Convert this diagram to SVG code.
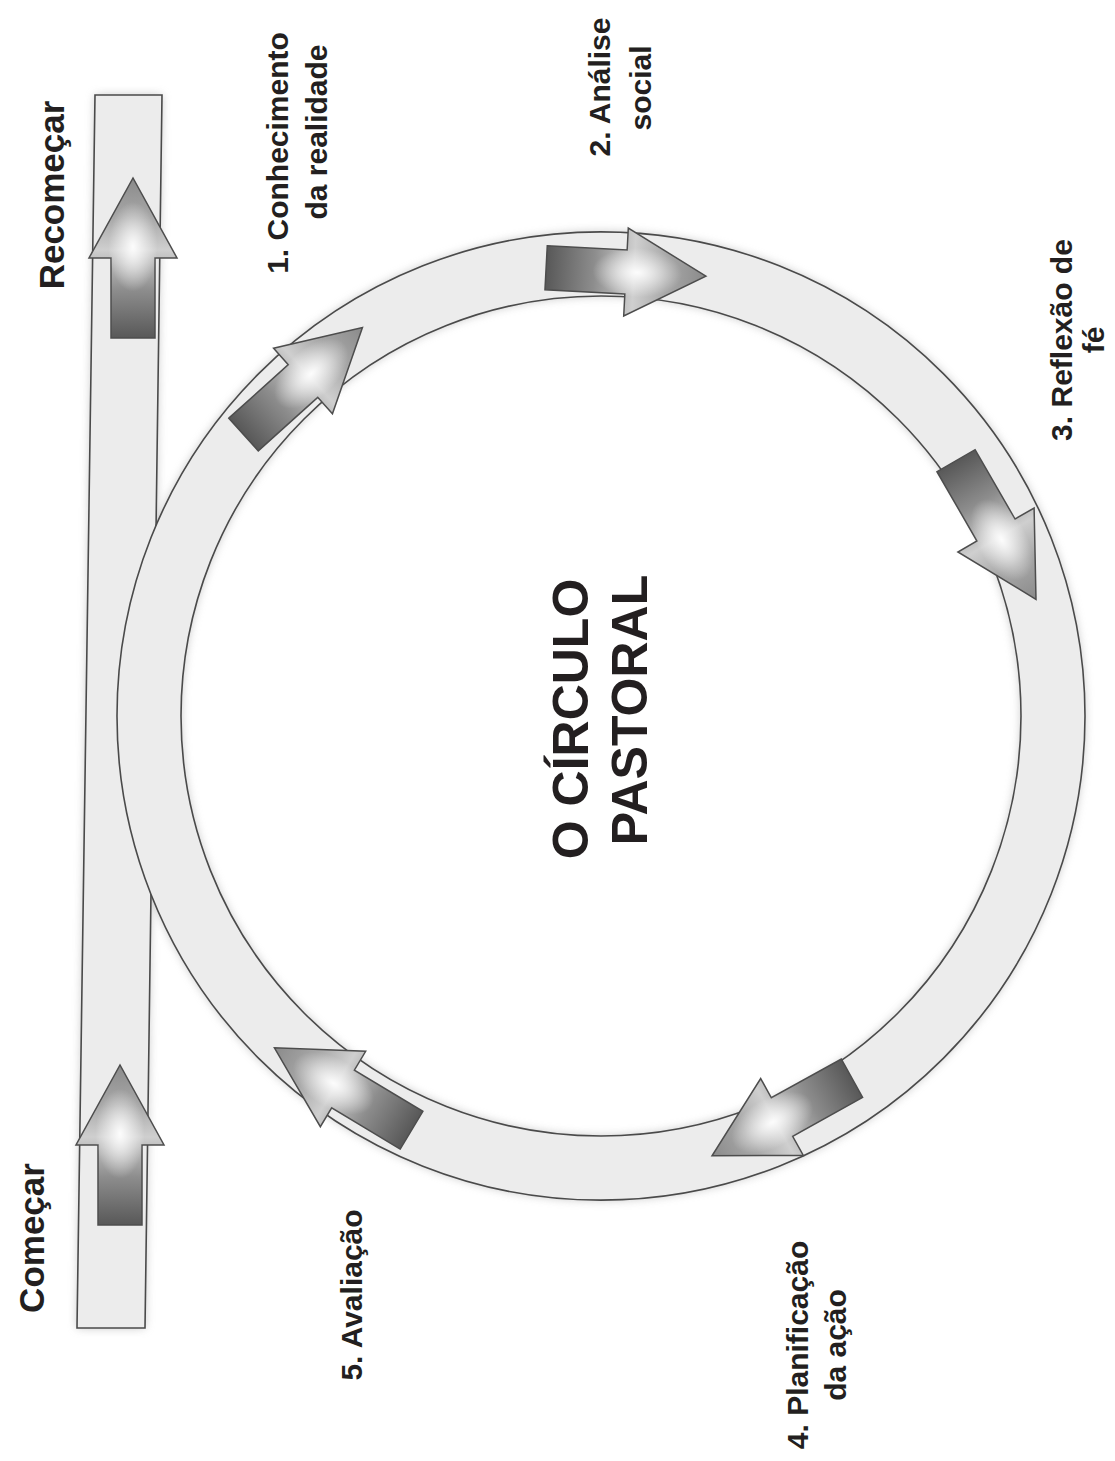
<svg xmlns="http://www.w3.org/2000/svg" xmlns:xlink="http://www.w3.org/1999/xlink" width="1115" height="1461" viewBox="0 0 1115 1461">
<style>
.lbl{font-family:"Liberation Sans",Arial,sans-serif;font-weight:bold;font-size:30px;fill:#231f20;text-anchor:middle}
.big{font-size:35px}
.title{font-family:"Liberation Sans",Arial,sans-serif;font-weight:bold;font-size:50px;fill:#231f20;text-anchor:middle}
.band{fill:#ececec;stroke:#4a4a4a;stroke-width:1.6}
.arrow{fill:url(#ag);stroke:#4d4d4d;stroke-width:1.5}
.hl{fill:url(#hl)}
</style>
<defs>
<filter id="soft" x="-10%" y="-10%" width="120%" height="120%"><feGaussianBlur stdDeviation="5"/></filter>
<linearGradient id="ag" x1="0" y1="0" x2="1" y2="0">
<stop offset="0" stop-color="#585858"/>
<stop offset="0.3" stop-color="#8d8d8d"/>
<stop offset="0.55" stop-color="#cfcfcf"/>
<stop offset="0.75" stop-color="#a8a8a8"/>
<stop offset="1" stop-color="#8a8a8a"/>
</linearGradient>
<radialGradient id="hl" cx="0.57" cy="0.5" r="0.28">
<stop offset="0" stop-color="#ffffff" stop-opacity="0.95"/>
<stop offset="1" stop-color="#ffffff" stop-opacity="0"/>
</radialGradient>
<path id="arr" d="M-80,-22 L0,-22 L0,-44 L80,0 L0,44 L0,22 L-80,22 Z"/>
</defs>
<rect width="1115" height="1461" fill="#ffffff"/>
<g id="shadows" filter="url(#soft)" opacity="0.55">
<polygon points="95,95 162,95 145,1328 77,1328" fill="#9a9a9a"/>
<path d="M117,716 a484,484 0 1,0 968,0 a484,484 0 1,0 -968,0 Z M181,716 a420,420 0 1,0 840,0 a420,420 0 1,0 -840,0 Z" fill="#9a9a9a" fill-rule="evenodd"/>
</g>
<g id="connectors">
<polygon id="band" class="band" points="95,95 162,95 145,1328 77,1328"/>
<path id="ring" class="band" fill-rule="evenodd" d="M117,716 a484,484 0 1,0 968,0 a484,484 0 1,0 -968,0 Z M181,716 a420,420 0 1,0 840,0 a420,420 0 1,0 -840,0 Z"/>
</g>
<g id="arrow-recomecar" transform="translate(133,258) rotate(-90)"><use href="#arr" class="arrow"/><use href="#arr" class="hl"/></g>
<g id="arrow-comecar" transform="translate(120,1145) rotate(-90)"><use href="#arr" class="arrow"/><use href="#arr" class="hl"/></g>
<g id="arrow-1" transform="translate(303,381) rotate(-42)"><use href="#arr" class="arrow"/><use href="#arr" class="hl"/></g>
<g id="arrow-2" transform="translate(626,272) rotate(3)"><use href="#arr" class="arrow"/><use href="#arr" class="hl"/></g>
<g id="arrow-3" transform="translate(996,530) rotate(60)"><use href="#arr" class="arrow"/><use href="#arr" class="hl"/></g>
<g id="arrow-4" transform="translate(782,1117) rotate(151)"><use href="#arr" class="arrow"/><use href="#arr" class="hl"/></g>
<g id="arrow-5" transform="translate(343,1089) rotate(211)"><use href="#arr" class="arrow"/><use href="#arr" class="hl"/></g>
<g id="title">
<text class="title" transform="translate(588,719) rotate(-90)">O CÍRCULO</text>
<text class="title" transform="translate(647,710) rotate(-90)">PASTORAL</text>
</g>
<g id="label-recomecar"><text class="lbl big" transform="translate(64,195) rotate(-90)">Recomeçar</text></g>
<g id="label-comecar"><text class="lbl big" transform="translate(44,1238) rotate(-90)">Começar</text></g>
<g id="label-1">
<text class="lbl" transform="translate(288,153) rotate(-90)">1. Conhecimento</text>
<text class="lbl" transform="translate(327,132) rotate(-90)">da realidade</text>
</g>
<g id="label-2">
<text class="lbl" transform="translate(610,87) rotate(-90)">2. Análise</text>
<text class="lbl" transform="translate(651,88) rotate(-90)">social</text>
</g>
<g id="label-3">
<text class="lbl" transform="translate(1072,340) rotate(-90)">3. Reflexão de</text>
<text class="lbl" transform="translate(1104,340) rotate(-90)">fé</text>
</g>
<g id="label-4">
<text class="lbl" transform="translate(808,1345) rotate(-90)">4. Planificação</text>
<text class="lbl" transform="translate(846,1345) rotate(-90)">da ação</text>
</g>
<g id="label-5"><text class="lbl" transform="translate(362,1295) rotate(-90)">5. Avaliação</text></g>
</svg>
